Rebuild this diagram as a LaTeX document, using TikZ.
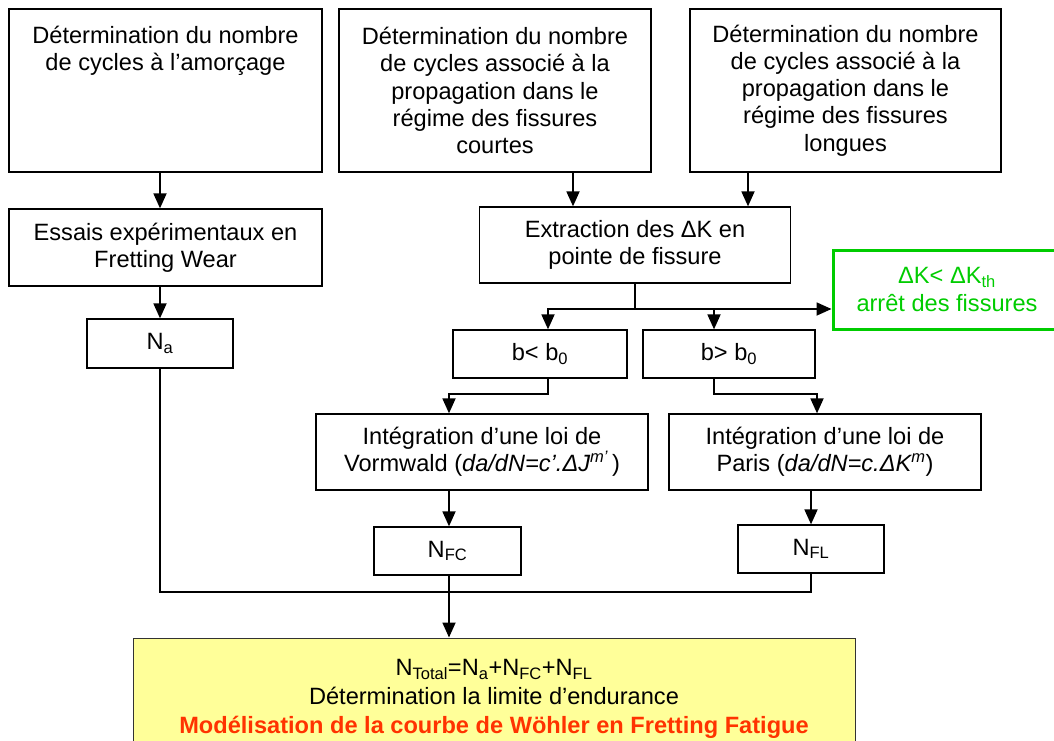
\documentclass[tikz,border=0pt]{standalone}
\usepackage{fontspec}
\setmainfont{Liberation Sans}
\usetikzlibrary{arrows.meta,calc}
\definecolor{boxgreen}{RGB}{0,204,0}
\definecolor{yelfill}{RGB}{255,255,153}
\definecolor{redtext}{RGB}{255,51,0}
\begin{document}
\begin{tikzpicture}[x=1pt,y=-1pt,
  txt/.style={inner sep=0pt, align=center, font=\fontsize{23.6}{27.2}\selectfont},
  box/.style={txt, draw=black, line width=1.3pt},
  conn/.style={line width=1.8pt, line cap=rect},
  arr/.style={conn, -{Triangle[length=15pt,width=13pt]}}]
\clip (0,0) rectangle (1054,740);
% boxes
\node[box, minimum width=313pt, minimum height=163pt] (b1) at (165.5,90.5) {};
\node[txt] (b1t) at (165.5,51) {Détermination du nombre\\de cycles à l’amorçage};
\node[box, minimum width=312pt, minimum height=163pt] (b2) at (495,90.5)
  {Détermination du nombre\\de cycles associé à la\\propagation dans le\\régime des fissures\\courtes};
\node[box, minimum width=311pt, minimum height=163pt] (b3) at (845.5,90.5)
  {Détermination du nombre\\de cycles associé à la\\propagation dans le\\régime des fissures\\longues};
\node[box, minimum width=313pt, minimum height=77pt] (ess) at (165.5,247.5)
  {Essais expérimentaux en\\Fretting Wear};
\node[box, minimum width=146pt, minimum height=49pt] (na) at (160,343.5) {N\textsubscript{a}};
\node[box, minimum width=311pt, minimum height=76pt] (ext) at (635,245)
  {Extraction des ΔK en\\pointe de fissure};
\node[box, draw=boxgreen, text=boxgreen, line width=3pt, minimum width=228pt, minimum height=79pt] (green) at (947,289.5)
  {ΔK< ΔK\textsubscript{th}\\arrêt des fissures};
\node[box, minimum width=174pt, minimum height=48pt] (bl) at (540,354) {b< b\textsubscript{0}};
\node[box, minimum width=172pt, minimum height=48pt] (bg) at (729,354) {b> b\textsubscript{0}};
\node[box, minimum width=332pt, minimum height=76pt] (vorm) at (482,452)
  {Intégration d’une loi de\\Vormwald (\textit{da/dN=c’.ΔJ\textsuperscript{m’}}\,)};
\node[box, minimum width=312pt, minimum height=76pt] (paris) at (825,452)
  {Intégration d’une loi de\\Paris (\textit{da/dN=c.ΔK\textsuperscript{m}})};
\node[box, minimum width=147pt, minimum height=48pt] (nfc) at (447.5,551) {N\textsubscript{FC}};
\node[box, minimum width=146pt, minimum height=48pt] (nfl) at (811,549) {N\textsubscript{FL}};
\node[box, fill=yelfill, draw=black!80, line width=1pt, minimum width=722pt, minimum height=122pt,
  font=\fontsize{23.6}{29}\selectfont] (yel) at (494,699)
  {N\textsubscript{Total}=N\textsubscript{a}+N\textsubscript{FC}+N\textsubscript{FL}\\
   Détermination la limite d’endurance\\
   {\bfseries\color{redtext}Modélisation de la courbe de Wöhler en Fretting Fatigue}};
% helper coordinates
\coordinate (split) at (635,309);
\coordinate (bla) at ($(bl.north)+(8,0)$);
\coordinate (bga) at ($(bg.north)+(-15,0)$);
\coordinate (vin) at ($(vorm.north)+(-33,0)$);
\coordinate (pin) at ($(paris.north)+(-8,0)$);
\coordinate (j) at (449,592);
\coordinate (b2o) at ($(b2.south)+(78,0)$);
\coordinate (b3o) at ($(b3.south)+(-97.5,0)$);
% connectors
\draw[arr] (b1.south -| na) -- (ess.north -| na);
\draw[arr] (ess.south -| na) -- (na.north);
\draw[arr] (b2o) -- (b2o |- ext.north);
\draw[arr] (b3o) -- (b3o |- ext.north);
\draw[conn] (ext.south) -- (split);
\draw[arr] (bla |- split) -- (green.west |- split);
\draw[arr] (bla |- split) -- (bla);
\draw[arr] (bga |- split) -- (bga);
\draw[arr] (bl.south -| bla) -- ++(0,15) -| (vin);
\draw[arr] (bg.south -| bga) -- ++(0,15) -| (pin);
\draw[arr] (vorm.south -| vin) -- (nfc.north -| vin);
\draw[arr] (paris.south -| nfl) -- (nfl.north);
\draw[conn] (na.south) -- (na.south |- j) -- (nfl.south |- j) -- (nfl.south);
\draw[arr] (nfc.south -| vin) -- (yel.north -| vin);
\end{tikzpicture}
\end{document}
